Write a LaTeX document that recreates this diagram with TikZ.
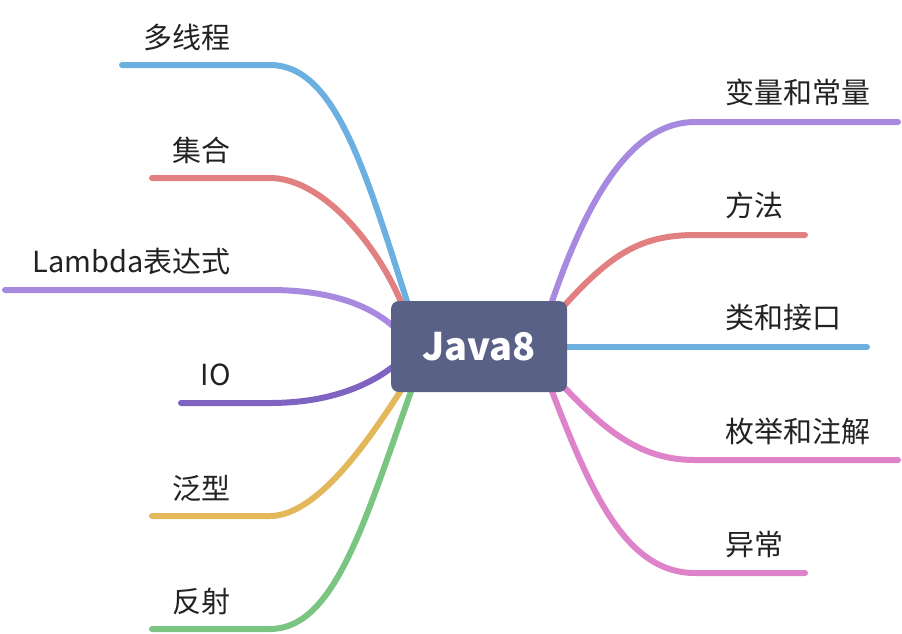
\documentclass[tikz,border=0pt]{standalone}
\usepackage{fontspec}
\setmainfont{Noto Sans CJK SC}
\usepackage{tikz}
\usetikzlibrary{positioning, backgrounds}

\definecolor{hubfill}{HTML}{5A6187}
\definecolor{txtgray}{HTML}{222222}
\definecolor{cblue}{HTML}{6CB0E2}
\definecolor{cred}{HTML}{E27F80}
\definecolor{clilac}{HTML}{A78AE0}
\definecolor{cviolet}{HTML}{7E64C0}
\definecolor{cgold}{HTML}{E3B85A}
\definecolor{cgreen}{HTML}{7BC583}
\definecolor{cpink}{HTML}{DE82C9}

\begin{document}
\begin{tikzpicture}[x=1pt, y=-1pt,
    branch/.style={line width=6pt, line cap=round},
    lbl/.style={text=txtgray, font=\fontsize{29}{34}\selectfont, inner sep=0pt}]
    \useasboundingbox (0,0) rectangle (902,633);

    \node[fill=hubfill, rounded corners=8pt, minimum width=176pt, minimum height=91pt,
          text=white, font=\fontsize{38}{44}\selectfont\bfseries] (java) at (479,346.5) {Java8};

    % left side
    \node[lbl, anchor=east] (thread) at (231,37) {多线程};
    \node[lbl, anchor=east] (coll) at (231,150) {集合};
    \node[lbl, anchor=east] (lambda) at (231,262) {Lambda表达式};
    \node[lbl, anchor=east] (io) at (231,375) {IO};
    \node[lbl, anchor=east] (gen) at (231,488) {泛型};
    \node[lbl, anchor=east] (refl) at (231,601) {反射};

    % right side
    \node[lbl, anchor=west] (vars) at (725,92) {变量和常量};
    \node[lbl, anchor=west] (meth) at (725,205) {方法};
    \node[lbl, anchor=west] (cls) at (725,318) {类和接口};
    \node[lbl, anchor=west] (enum) at (725,431) {枚举和注解};
    \node[lbl, anchor=west] (exc) at (725,544) {异常};

    \coordinate (thread-e) at (122,65);
    \coordinate (coll-e) at (152,178);
    \coordinate (lambda-e) at (5,290);
    \coordinate (io-e) at (181,403);
    \coordinate (gen-e) at (152,516);
    \coordinate (refl-e) at (152,629);
    \coordinate (vars-e) at (898,122);
    \coordinate (meth-e) at (805,235);
    \coordinate (cls-e) at (867,347);
    \coordinate (enum-e) at (898,460);
    \coordinate (exc-e) at (805,573);

    \begin{scope}[on background layer]
      \draw[branch, cblue] (thread-e) -- (270,65) .. controls (335,65) and (365,170) .. ([xshift=17pt, yshift=-3pt]java.north west);
      \draw[branch, cred] (coll-e) -- (270,178) .. controls (320,178) and (375,240) .. ([xshift=11pt, yshift=-3pt]java.north west);
      \draw[branch, clilac] (lambda-e) -- (270,290) .. controls (330,290) and (370,305) .. ([xshift=4pt, yshift=-27pt]java.north west);
      \draw[branch, cviolet] (io-e) -- (270,403) .. controls (330,403) and (370,385) .. ([xshift=4pt, yshift=27pt]java.south west);
      \draw[branch, cgold] (gen-e) -- (270,516) .. controls (320,516) and (375,430) .. ([xshift=11pt, yshift=3pt]java.south west);
      \draw[branch, cgreen] (refl-e) -- (270,629) .. controls (335,629) and (365,520) .. ([xshift=21pt, yshift=3pt]java.south west);

      \draw[branch, clilac] ([xshift=-16pt, yshift=-3pt]java.north east) .. controls (590,190) and (635,122) .. (695,122) -- (vars-e);
      \draw[branch, cred] ([xshift=-4pt, yshift=-6pt]java.north east) .. controls (610,255) and (640,235) .. (695,235) -- (meth-e);
      \draw[branch, cblue] (java.east |- cls-e) -- (cls-e);
      \draw[branch, cpink] ([xshift=-4pt, yshift=6pt]java.south east) .. controls (605,430) and (640,460) .. (695,460) -- (enum-e);
      \draw[branch, cpink] ([xshift=-16pt, yshift=3pt]java.south east) .. controls (590,490) and (625,573) .. (695,573) -- (exc-e);
    \end{scope}
\end{tikzpicture}
\end{document}
